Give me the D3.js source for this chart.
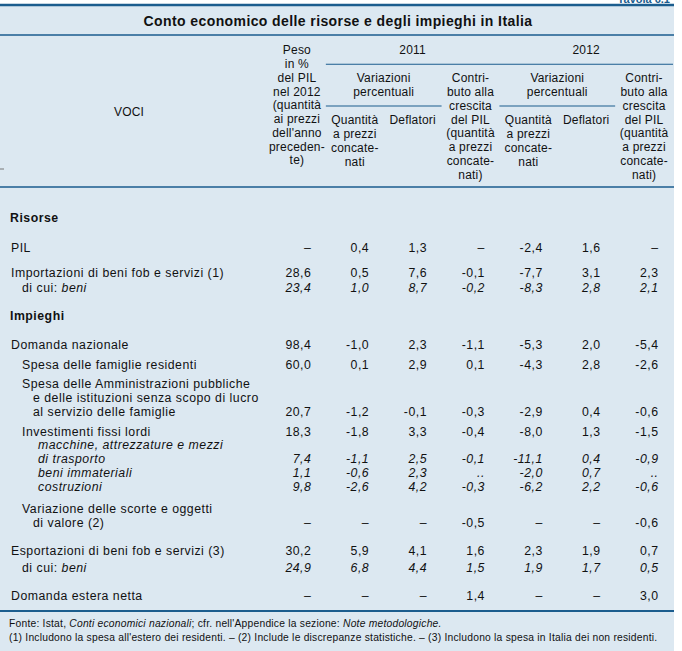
<!DOCTYPE html>
<html><head><meta charset="utf-8">
<script src="https://cdn.jsdelivr.net/npm/d3@7"></script>
<style>
body{margin:0;background:#fff}
svg{display:block}
text{font-family:"Liberation Sans",Arial,Helvetica,sans-serif;fill:#111}
</style>
</head><body><div id="chart"></div>
<script>
// ---------------- DATA ----------------
const title = "Conto economico delle risorse e degli impieghi in Italia";
const tableNumber = "Tavola 6.1";
const stubHeader = "VOCI";
const years = ["2011", "2012"];
const groupHeader = "Variazioni\npercentuali";
const columnKeys = ["peso", "q2011", "d2011", "c2011", "q2012", "d2012", "c2012"];
const columnHeaders = [
  "Peso\nin %\ndel PIL\nnel 2012\n(quantità\nai prezzi\ndell'anno\npreceden-\nte)",
  "Quantità\na prezzi\nconcate-\nnati",
  "Deflatori",
  "Contri-\nbuto alla\ncrescita\ndel PIL\n(quantità\na prezzi\nconcate-\nnati)",
  "Quantità\na prezzi\nconcate-\nnati",
  "Deflatori",
  "Contri-\nbuto alla\ncrescita\ndel PIL\n(quantità\na prezzi\nconcate-\nnati)"
];
const rowLabels = [
  "Risorse",
  "PIL",
  "Importazioni di beni fob e servizi (1)",
  "di cui: *beni*",
  "Impieghi",
  "Domanda nazionale",
  "Spesa delle famiglie residenti",
  "Spesa delle Amministrazioni pubbliche\ne delle istituzioni senza scopo di lucro\nal servizio delle famiglie",
  "Investimenti fissi lordi",
  "*macchine, attrezzature e mezzi*\n *di trasporto*",
  "*beni immateriali*",
  "*costruzioni*",
  "Variazione delle scorte e oggetti\ndi valore (2)",
  "Esportazioni di beni fob e servizi (3)",
  "di cui: *beni*",
  "Domanda estera netta"
];
// null = "–" (not applicable), ".." = negligible
const peso  = [null, null, 28.6, 23.4, null, 98.4, 60.0, 20.7, 18.3, 7.4, 1.1, 9.8, null, 30.2, 24.9, null];
const q2011 = [null, 0.4, 0.5, 1.0, null, -1.0, 0.1, -1.2, -1.8, -1.1, -0.6, -2.6, null, 5.9, 6.8, null];
const d2011 = [null, 1.3, 7.6, 8.7, null, 2.3, 2.9, -0.1, 3.3, 2.5, 2.3, 4.2, null, 4.1, 4.4, null];
const c2011 = [null, null, -0.1, -0.2, null, -1.1, 0.1, -0.3, -0.4, -0.1, "..", -0.3, -0.5, 1.6, 1.5, 1.4];
const q2012 = [null, -2.4, -7.7, -8.3, null, -5.3, -4.3, -2.9, -8.0, -11.1, -2.0, -6.2, null, 2.3, 1.9, null];
const d2012 = [null, 1.6, 3.1, 2.8, null, 2.0, 2.8, 0.4, 1.3, 0.4, 0.7, 2.2, null, 1.9, 1.7, null];
const c2012 = [null, null, 2.3, 2.1, null, -5.4, -2.6, -0.6, -1.5, -0.9, "..", -0.6, -0.6, 0.7, 0.5, 3.0];
const footnotes = [
  "Fonte: Istat, *Conti economici nazionali*; cfr. nell'Appendice la sezione: *Note metodologiche.*",
  "(1) Includono la spesa all'estero dei residenti. – (2) Include le discrepanze statistiche. – (3) Includono la spesa in Italia dei non residenti."
];

// ---------------- LAYOUT (code) ----------------
const W = 682, H = 651;
const BG = "#dce8f1", LINE = "#1b5d8e";
const right = 674;
const series = {peso, q2011, d2011, c2011, q2012, d2012, c2012};
const rowLayout = [
  {kind: "head", gap: 0},
  {kind: "main", gap: 15.7},
  {kind: "main", gap: 11.2},
  {kind: "sub", gap: 1.2, it: true},
  {kind: "head", gap: 14.2},
  {kind: "main", gap: 15.7},
  {kind: "sub", gap: 5.6},
  {kind: "sub", gap: 5.5},
  {kind: "sub", gap: 6.2},
  {kind: "subsub", gap: -0.5, it: true},
  {kind: "subsub", gap: 0.6, it: true},
  {kind: "subsub", gap: 0.2, it: true},
  {kind: "sub", gap: 7.8},
  {kind: "main", gap: 14.5},
  {kind: "sub", gap: 2.9, it: true},
  {kind: "main", gap: 14.5}
];
const LH = 13.8, HLH = 13.75;
const indent = {head: [10, 10], main: [11, 21], sub: [22, 33], subsub: [38, 38]};
const BODY_FS = 12.3, BODY_LS = 0.5;
const HEAD_FS = 12, HEAD_LS = 0.2;

const svg = d3.select("#chart").append("svg").attr("width", W).attr("height", H);

svg.append("rect").attr("x", 0).attr("y", 5).attr("width", right).attr("height", H - 5).attr("fill", BG);

svg.append("text").attr("x", 670).attr("y", 2.5).attr("text-anchor", "end")
  .attr("font-size", 11).attr("font-weight", "bold").style("fill", LINE).text(tableNumber);

function hline(y, x1, x2, w) {
  svg.append("line").attr("x1", x1).attr("x2", x2).attr("y1", y).attr("y2", y)
    .attr("stroke", LINE).attr("stroke-width", w);
}
hline(5, 0, right, 2.5);
hline(35, 0, right, 1.4);
hline(187, 0, right, 1.4);
hline(611, 0, right, 2.2);
svg.append("line").attr("x1", 0).attr("x2", 4).attr("y1", 169).attr("y2", 169).attr("stroke", "#777").attr("stroke-width", 1);

svg.append("text").attr("x", 338).attr("y", 25.5).attr("text-anchor", "middle")
  .attr("font-size", 14).attr("font-weight", "bold").attr("letter-spacing", 0.4).text(title);

function rich(sel, str) {
  str.split("*").forEach((s, i) => {
    if (s) sel.append("tspan").attr("font-style", i % 2 ? "italic" : null).text(s);
  });
}

const x = d3.scaleBand().domain(columnKeys).range([268, 673]);
const cx = k => x(k) + x.bandwidth() / 2;
const rx = k => x(k) + x.bandwidth() - 14.5;

function multiline(str, xc, yTop, anchor) {
  str.split("\n").forEach((ln, i) => {
    svg.append("text").attr("x", xc).attr("y", yTop + i * HLH + 4.3)
      .attr("text-anchor", anchor || "middle").attr("font-size", HEAD_FS)
      .attr("letter-spacing", HEAD_LS).text(ln);
  });
}
multiline(stubHeader, 129, 112);
const headerTop = {peso: 50, q2011: 120, d2011: 120, c2011: 78, q2012: 120, d2012: 120, c2012: 78};
columnKeys.forEach((k, i) => multiline(columnHeaders[i], cx(k), headerTop[k]));
years.forEach((yr, i) => {
  const k0 = columnKeys[1 + 3 * i], k2 = columnKeys[3 + 3 * i];
  multiline(yr, (x(k0) + x(k2) + x.bandwidth()) / 2, 50);
  const k1 = columnKeys[2 + 3 * i];
  multiline(groupHeader, (x(k0) + x(k1) + x.bandwidth()) / 2, 78);
  hline(106, x(k0), x(k1) + x.bandwidth(), 1.1);
});
hline(64.3, x("q2011"), 673, 1.1);

let yPrev = null;
const rows = rowLabels.map((lab, i) => {
  const lines = lab.split("\n");
  const y0 = yPrev === null ? 218 : yPrev + LH + rowLayout[i].gap;
  const ys = lines.map((_, j) => y0 + j * LH);
  yPrev = ys[ys.length - 1];
  return {i, lines, ys, lay: rowLayout[i]};
});

const locale = d3.formatLocale({decimal: ",", thousands: ".", grouping: [3], currency: ["", "€"], minus: "-"});
const f1 = locale.format(".1f");
const fmt = v => v === null ? "–" : (typeof v === "string" ? v : f1(v));

const g = svg.append("g");
rows.forEach(r => {
  const ind = indent[r.lay.kind];
  r.lines.forEach((ln, j) => {
    const t = g.append("text").attr("x", j === 0 ? ind[0] : ind[1]).attr("y", r.ys[j] + 4.3)
      .attr("font-size", BODY_FS).attr("letter-spacing", BODY_LS)
      .attr("font-weight", r.lay.kind === "head" ? "bold" : null);
    rich(t, ln);
  });
  if (r.lay.kind === "head") return;
  const yv = r.ys[r.ys.length - 1] + 4.3;
  g.selectAll(null).data(columnKeys).join("text")
    .attr("x", k => rx(k)).attr("y", yv).attr("text-anchor", "end")
    .attr("font-size", BODY_FS).attr("letter-spacing", BODY_LS)
    .attr("font-style", r.lay.it ? "italic" : null)
    .text(k => fmt(series[k][r.i]));
});

footnotes.forEach((fn, i) => {
  const t = svg.append("text").attr("x", 9).attr("y", 623 + i * 14 + 3.5)
    .attr("font-size", 10.3).attr("letter-spacing", 0.22);
  rich(t, fn);
});
</script>
</body></html>
